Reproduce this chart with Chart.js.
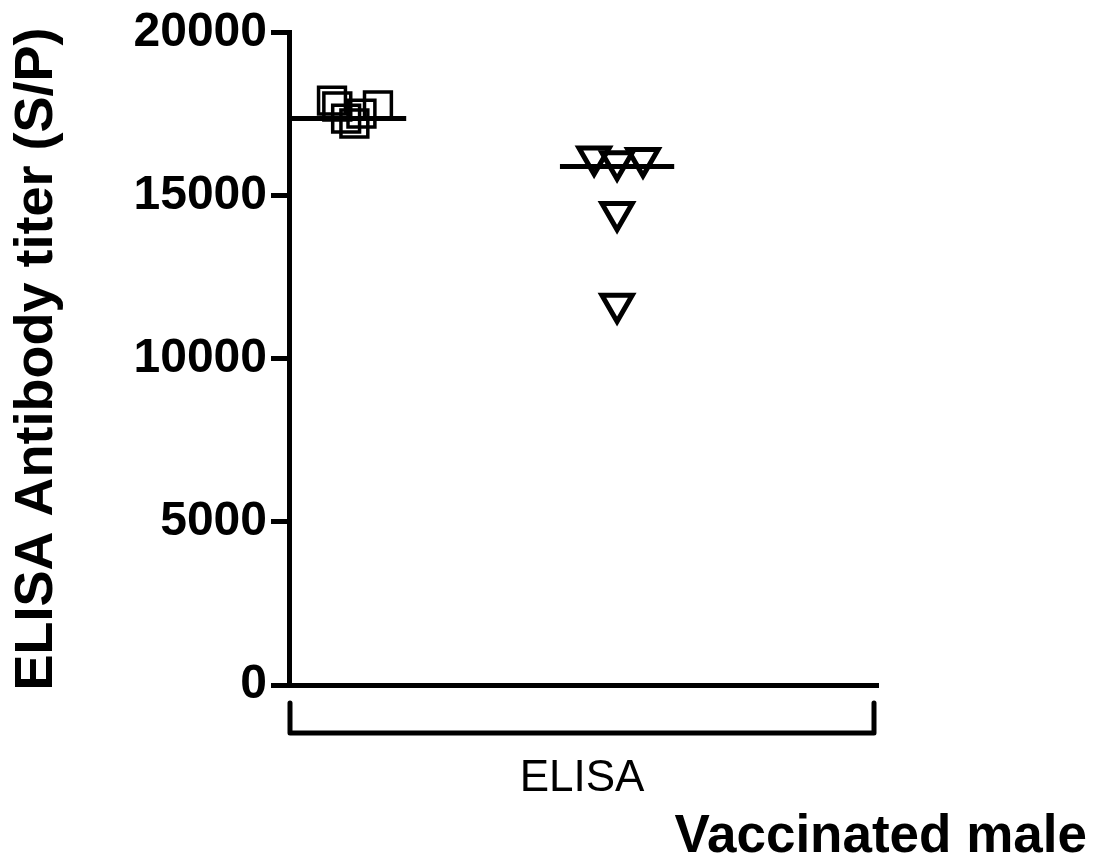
<!DOCTYPE html>
<html>
<head>
<meta charset="utf-8">
<script src="https://cdn.jsdelivr.net/npm/chart.js@4"></script>
<style>
  html, body { margin: 0; padding: 0; background: #fff; }
</style>
</head>
<body>
<canvas id="titer-chart" width="1094" height="862"></canvas>
<script>
const FONT = '"Liberation Sans", Arial, Helvetica, sans-serif';

// values
const groupName = "ELISA";
const groupTitle = "Vaccinated male";
const yTitle = "ELISA Antibody titer (S/P)";
const yTicks = [0, 5000, 10000, 15000, 20000];

const groupPos = [1.02, 5.57];
const squareValues = [17920, 17740, 17770, 17370, 17220, 17520];
const squareJitter = [-0.29, -0.2, 0.49, -0.05, 0.09, 0.21];
const triangleValues = [16200, 16050, 16150, 14500, 11680];
const triangleJitter = [-0.39, 0, 0.44, 0, 0];
const medians = [17370, 15900];

const ctx = document.getElementById("titer-chart").getContext("2d");

const toPoints = (values, jitter, pos) =>
  values.map((v, i) => ({ x: pos + jitter[i], y: v }));

const medianLine = (i) => [
  { x: groupPos[i] - 0.97, y: medians[i] },
  { x: groupPos[i] + 0.97, y: medians[i] },
];

const bracketPlugin = {
  id: "bracket",
  afterDraw(chart) {
    const { ctx, chartArea } = chart;
    const left = chartArea.left + 1;
    const right = chartArea.right - 4;
    const top = chartArea.bottom + 18;
    const bottom = chartArea.bottom + 48;
    ctx.save();
    ctx.strokeStyle = "#000";
    ctx.lineWidth = 5;
    ctx.lineJoin = "round";
    ctx.lineCap = "round";
    ctx.beginPath();
    ctx.moveTo(left, top);
    ctx.lineTo(left, bottom);
    ctx.lineTo(right, bottom);
    ctx.lineTo(right, top);
    ctx.stroke();

    ctx.fillStyle = "#000";
    ctx.textAlign = "center";
    ctx.textBaseline = "middle";
    ctx.font = "44px " + FONT;
    ctx.fillText(groupName, (left + right) / 2, chartArea.bottom + 94);

    ctx.textAlign = "right";
    ctx.font = "bold 53px " + FONT;
    ctx.fillText(groupTitle, 1087, chartArea.bottom + 152);
    ctx.restore();
  },
};

new Chart(ctx, {
  type: "scatter",
  data: {
    datasets: [
      {
        type: "line",
        data: medianLine(0),
        borderColor: "#000",
        borderWidth: 5,
        pointRadius: 0,
        clip: false,
      },
      {
        type: "line",
        data: medianLine(1),
        borderColor: "#000",
        borderWidth: 5,
        pointRadius: 0,
        clip: false,
      },
      {
        data: toPoints(squareValues, squareJitter, groupPos[0]),
        pointStyle: "rect",
        pointRadius: 19,
        borderColor: "#000",
        backgroundColor: "rgba(0,0,0,0)",
        borderWidth: 3.5,
        clip: false,
      },
      {
        data: toPoints(triangleValues, triangleJitter, groupPos[1]),
        pointStyle: "triangle",
        rotation: 180,
        pointRadius: 17.5,
        borderColor: "#000",
        backgroundColor: "rgba(0,0,0,0)",
        borderWidth: 5,
        clip: false,
      },
    ],
  },
  options: {
    responsive: false,
    animation: false,
    events: [],
    layout: { padding: { top: 8, right: 216, left: 0, bottom: 0 } },
    plugins: {
      legend: { display: false },
      tooltip: { enabled: false },
    },
    scales: {
      x: {
        type: "linear",
        min: 0,
        max: 10,
        ticks: { display: false },
        grid: { display: false },
        border: { color: "#000", width: 5 },
        afterFit(scale) {
          scale.height = 177;
        },
      },
      y: {
        min: 0,
        max: 20000,
        afterBuildTicks(scale) {
          scale.ticks = yTicks.map((v) => ({ value: v }));
        },
        ticks: {
          color: "#000",
          padding: 4,
          font: { family: FONT, size: 48, weight: "bold" },
          callback: (v) => String(v),
        },
        grid: {
          drawOnChartArea: false,
          drawTicks: true,
          tickLength: 18,
          lineWidth: 5,
          color: "#000",
        },
        border: { color: "#000", width: 5 },
        title: {
          display: true,
          text: yTitle,
          color: "#000",
          padding: { top: 5, bottom: 0 },
          font: { family: FONT, size: 54, weight: "bold" },
        },
        afterFit(scale) {
          scale.width = 289;
        },
      },
    },
  },
  plugins: [bracketPlugin],
});
</script>
</body>
</html>
